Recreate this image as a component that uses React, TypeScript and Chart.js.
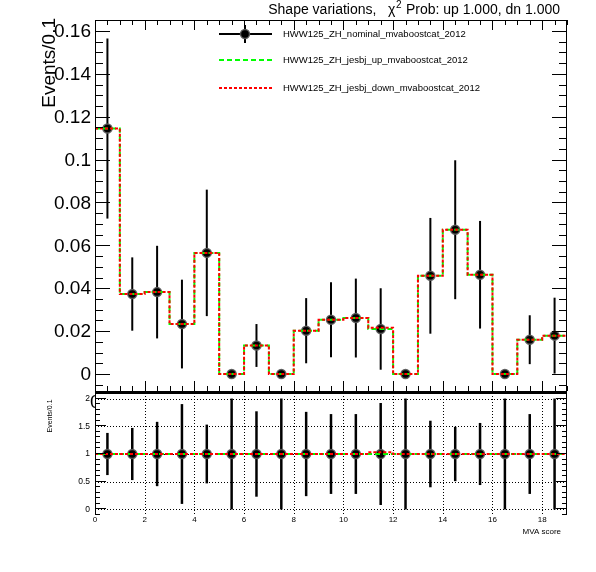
import { useEffect, useRef } from "react";
import { Chart, registerables } from "chart.js";
Chart.register(...registerables);

const W = 596;
const H = 572;
const FONT = '"Liberation Sans", Arial, Helvetica, sans-serif';

// ---------- data ----------
const binCenters = [0.5, 1.5, 2.5, 3.5, 4.5, 5.5, 6.5, 7.5, 8.5, 9.5, 10.5, 11.5, 12.5, 13.5, 14.5, 15.5, 16.5, 17.5, 18.5];
const nominal = [0.1145, 0.0373, 0.0382, 0.0233, 0.0565, 0, 0.0133, 0, 0.0202, 0.0253, 0.0261, 0.021, 0, 0.0458, 0.0673, 0.0463, 0, 0.016, 0.0179];
const nominalErr = [0.042, 0.0171, 0.0216, 0.0207, 0.0295, 0, 0.01, 0, 0.0152, 0.0175, 0.0184, 0.019, 0, 0.027, 0.0324, 0.0251, 0, 0.0114, 0.0177];
const jesUp = [0.1145, 0.0373, 0.0382, 0.0233, 0.0565, 0, 0.0133, 0, 0.0202, 0.0253, 0.0261, 0.021, 0, 0.0458, 0.0673, 0.0463, 0, 0.016, 0.0179];
const jesDown = [0.1145, 0.0373, 0.0382, 0.0233, 0.0565, 0, 0.0133, 0, 0.0202, 0.0253, 0.0261, 0.0216, 0, 0.0458, 0.0673, 0.0463, 0, 0.016, 0.0179];
const ratioNominal = [1, 1, 1, 1, 1, 1, 1, 1, 1, 1, 1, 1, 1, 1, 1, 1, 1, 1, 1];
const ratioErr = [0.38, 0.47, 0.58, 0.9, 0.53, 1.0, 0.77, 1.0, 0.76, 0.72, 0.72, 0.92, 1.0, 0.6, 0.49, 0.56, 1.0, 0.72, 1.0];
const ratioUp = [1, 1, 1, 1, 1, 1, 1, 1, 1, 1, 1, 1, 1, 1, 1, 1, 1, 1, 1];
const ratioDown = [1, 1, 1, 1, 1, 1, 1, 1, 1, 1, 1, 1.03, 1, 1, 1, 1, 1, 1, 1];

const xTicks = [0, 2, 4, 6, 8, 10, 12, 14, 16, 18];
const xTickLabels = ["0", "2", "4", "6", "8", "10", "12", "14", "16", "18"];
const mainYTicks = [0, 0.02, 0.04, 0.06, 0.08, 0.1, 0.12, 0.14, 0.16];
const mainYTickLabels = ["0", "0.02", "0.04", "0.06", "0.08", "0.1", "0.12", "0.14", "0.16"];
const ratioYTicks = [0, 0.5, 1, 1.5, 2];
const ratioYTickLabels = ["0", "0.5", "1", "1.5", "2"];
const legendLabels = [
  "HWW125_ZH_nominal_mvaboostcat_2012",
  "HWW125_ZH_jesbj_up_mvaboostcat_2012",
  "HWW125_ZH_jesbj_down_mvaboostcat_2012",
];
const titleA = "Shape variations,   \u03c7";
const titleSup = "2";
const titleB = " Prob: up 1.000, dn 1.000";
const yTitle = "Events/0.1";
const xTitle = "MVA score";

const GREEN = "#00ff00";
const RED = "#ff0000";
const GREEN_DASH = [5, 3];
const RED_DASH = [3, 2];

function stepPoints(vals: number[]) {
  const pts = vals.map((v, i) => ({ x: binCenters[i] - 0.5, y: v }));
  const n = vals.length - 1;
  pts.push({ x: binCenters[n] + 0.5, y: vals[n] });
  return pts;
}

function drawErrorBars(chart: any, vals: number[], errs: number[], lw: number) {
  const ctx = chart.ctx;
  const { left, right, top, bottom } = chart.chartArea;
  const xs = chart.scales.x;
  const ys = chart.scales.y;
  ctx.save();
  ctx.beginPath();
  ctx.rect(left, top, right - left, bottom - top);
  ctx.clip();
  ctx.strokeStyle = "#000";
  ctx.lineWidth = lw;
  vals.forEach((v, i) => {
    if (errs[i] <= 0) return;
    const x = xs.getPixelForValue(binCenters[i]);
    ctx.beginPath();
    ctx.moveTo(x, ys.getPixelForValue(v - errs[i]));
    ctx.lineTo(x, ys.getPixelForValue(v + errs[i]));
    ctx.stroke();
  });
  ctx.restore();
}

function hLine(ctx: any, x1: number, x2: number, y: number) {
  ctx.beginPath();
  ctx.moveTo(x1, y);
  ctx.lineTo(x2, y);
  ctx.stroke();
}
function vLine(ctx: any, x: number, y1: number, y2: number) {
  ctx.beginPath();
  ctx.moveTo(x, y1);
  ctx.lineTo(x, y2);
  ctx.stroke();
}

const mainPlugin = {
  id: "mainDecor",
  beforeDatasetsDraw(chart: any) {
    drawErrorBars(chart, nominal, nominalErr, 2);
  },
  afterDraw(chart: any) {
    const ctx = chart.ctx;
    const { left, right, top, bottom } = chart.chartArea;
    const xs = chart.scales.x;
    const ys = chart.scales.y;
    ctx.save();
    ctx.strokeStyle = "#000";
    ctx.lineWidth = 1;
    // frame
    hLine(ctx, left, right, top + 0.5);
    vLine(ctx, left + 0.5, top, bottom);
    vLine(ctx, right - 0.5, top, bottom);
    // x ticks (top & bottom)
    for (let v = 0; v <= 19.001; v += 0.5) {
      const major = Math.abs(v / 2 - Math.round(v / 2)) < 1e-6;
      const len = major ? 10 : 5;
      const px = Math.round(xs.getPixelForValue(v)) + 0.5;
      vLine(ctx, px, bottom, bottom - len);
      vLine(ctx, px, top, top + len);
    }
    // y ticks (left & right)
    const ymin = ys.min, ymax = ys.max;
    for (let k = Math.ceil(ymin / 0.005); k * 0.005 <= ymax; k++) {
      const v = k * 0.005;
      const major = k % 4 === 0;
      const len = major ? 15 : 8;
      const py = Math.round(ys.getPixelForValue(v)) + 0.5;
      hLine(ctx, left, left + len, py);
      hLine(ctx, right, right - len, py);
    }
    // y labels
    ctx.fillStyle = "#000";
    ctx.font = `19px ${FONT}`;
    ctx.textAlign = "right";
    ctx.textBaseline = "middle";
    mainYTicks.forEach((v, i) => {
      ctx.fillText(mainYTickLabels[i], 91, ys.getPixelForValue(v) + 1);
    });
    // y title
    ctx.save();
    ctx.translate(55, 18);
    ctx.rotate(-Math.PI / 2);
    ctx.textAlign = "right";
    ctx.textBaseline = "alphabetic";
    ctx.font = `19px ${FONT}`;
    ctx.fillText(yTitle, 0, 0);
    ctx.restore();
    // title
    ctx.font = `14px ${FONT}`;
    ctx.textBaseline = "alphabetic";
    ctx.textAlign = "left";
    const supFont = `10px ${FONT}`;
    const wA = ctx.measureText(titleA).width;
    const wB = ctx.measureText(titleB).width;
    ctx.font = supFont;
    const wS = ctx.measureText(titleSup).width;
    const xEnd = 559;
    const xStart = xEnd - wA - wS - wB;
    const base = 14;
    ctx.font = `14px ${FONT}`;
    ctx.fillText(titleA, xStart, base);
    ctx.font = supFont;
    ctx.fillText(titleSup, xStart + wA + 0.5, base - 6);
    ctx.font = `14px ${FONT}`;
    ctx.fillText(titleB, xStart + wA + wS + 1, base);
    // legend
    const lx1 = 219, lx2 = 272, lxm = 245, tx = 283;
    const rows = [34, 60, 88];
    ctx.lineWidth = 2;
    ctx.strokeStyle = "#000";
    hLine(ctx, lx1, lx2, rows[0]);
    vLine(ctx, lxm, rows[0] - 9, rows[0] + 9);
    ctx.beginPath();
    ctx.arc(lxm, rows[0], 4.5, 0, Math.PI * 2);
    ctx.fillStyle = "#000";
    ctx.fill();
    ctx.lineWidth = 1.5;
    ctx.strokeStyle = "rgba(90,90,90,0.9)";
    ctx.stroke();
    ctx.lineWidth = 2;
    ctx.setLineDash(GREEN_DASH);
    ctx.strokeStyle = GREEN;
    hLine(ctx, lx1, lx2, rows[1]);
    ctx.setLineDash(RED_DASH);
    ctx.strokeStyle = RED;
    hLine(ctx, lx1, lx2, rows[2]);
    ctx.setLineDash([]);
    ctx.fillStyle = "#000";
    ctx.font = `9.5px ${FONT}`;
    ctx.textAlign = "left";
    ctx.textBaseline = "middle";
    legendLabels.forEach((t, i) => ctx.fillText(t, tx, rows[i]));
    ctx.restore();
  },
};

const ratioPlugin = {
  id: "ratioDecor",
  beforeDatasetsDraw(chart: any) {
    const ctx = chart.ctx;
    const { left, right, top, bottom } = chart.chartArea;
    const xs = chart.scales.x;
    const ys = chart.scales.y;
    ctx.save();
    ctx.strokeStyle = "#000";
    ctx.lineWidth = 1;
    ctx.setLineDash([1, 2]);
    xTicks.forEach((v) => {
      if (v === 0) return;
      const px = Math.round(xs.getPixelForValue(v)) + 0.5;
      vLine(ctx, px, top, bottom);
    });
    ratioYTicks.forEach((v) => {
      const py = Math.round(ys.getPixelForValue(v)) + 0.5;
      hLine(ctx, left, right, py);
    });
    ctx.restore();
    drawErrorBars(chart, ratioNominal, ratioErr, 2.5);
  },
  afterDraw(chart: any) {
    const ctx = chart.ctx;
    const { left, right, top, bottom } = chart.chartArea;
    const xs = chart.scales.x;
    const ys = chart.scales.y;
    ctx.save();
    ctx.strokeStyle = "#000";
    ctx.lineWidth = 3;
    hLine(ctx, left, right, top - 0.5);
    ctx.lineWidth = 1;
    vLine(ctx, left + 0.5, top, bottom);
    vLine(ctx, right - 0.5, top, bottom);
    const ymin = ys.min, ymax = ys.max;
    for (let k = Math.ceil(ymin / 0.1 - 1e-6); k * 0.1 <= ymax + 1e-6; k++) {
      const v = k * 0.1;
      const major = k % 5 === 0;
      const len = major ? 11 : 5;
      const py = Math.round(ys.getPixelForValue(v)) - 0.5;
      hLine(ctx, left, left + len, py);
      hLine(ctx, right, right - len, py);
    }
    ctx.fillStyle = "#000";
    ctx.font = `8.5px ${FONT}`;
    ctx.textAlign = "right";
    ctx.textBaseline = "middle";
    ratioYTicks.forEach((v, i) => {
      ctx.fillText(ratioYTickLabels[i], 90, ys.getPixelForValue(v));
    });
    ctx.textAlign = "center";
    ctx.textBaseline = "top";
    ctx.font = `8px ${FONT}`;
    xTicks.forEach((v, i) => {
      ctx.fillText(xTickLabels[i], xs.getPixelForValue(v), 516);
    });
    ctx.textAlign = "right";
    ctx.textBaseline = "middle";
    ctx.fillText(xTitle, 561, 532);
    // small y title
    ctx.save();
    ctx.translate(52, 416);
    ctx.rotate(-Math.PI / 2);
    ctx.textAlign = "center";
    ctx.textBaseline = "alphabetic";
    ctx.font = `7px ${FONT}`;
    ctx.fillText(yTitle, 0, 0);
    ctx.restore();
    // clipped big "0" artefact
    ctx.save();
    ctx.beginPath();
    ctx.rect(80, top + 1, left - 80, 20);
    ctx.clip();
    ctx.font = `19px ${FONT}`;
    ctx.textAlign = "left";
    ctx.textBaseline = "middle";
    ctx.fillText("0", 90, top + 10);
    ctx.restore();
    ctx.restore();
  },
};

function lineDs(vals: number[], color: string, dash: number[], order: number) {
  return {
    type: "line" as const,
    data: stepPoints(vals),
    stepped: "before" as const,
    borderColor: color,
    borderDash: dash,
    borderWidth: 2,
    pointRadius: 0,
    fill: false,
    order,
  };
}

function pointDs(vals: number[]) {
  return {
    type: "scatter" as const,
    data: vals.map((v, i) => ({ x: binCenters[i], y: v })),
    showLine: false,
    pointRadius: 4.5,
    pointBackgroundColor: "#000",
    pointBorderColor: "rgba(90,90,90,0.9)",
    pointBorderWidth: 1.5,
    order: 3,
  };
}

function baseOptions(padding: any, ymin: number, ymax: number) {
  return {
    responsive: false,
    animation: false as const,
    devicePixelRatio: 1,
    events: [],
    layout: { padding, autoPadding: false },
    scales: {
      x: { type: "linear" as const, min: 0, max: 19, display: false },
      y: { type: "linear" as const, min: ymin, max: ymax, display: false },
    },
    plugins: { legend: { display: false }, tooltip: { enabled: false }, title: { display: false } },
  };
}

export default function App() {
  const mainRef = useRef<HTMLCanvasElement>(null);
  const ratioRef = useRef<HTMLCanvasElement>(null);

  useEffect(() => {
    const main = new Chart(mainRef.current as HTMLCanvasElement, {
      type: "scatter",
      data: {
        datasets: [
          pointDs(nominal),
          lineDs(jesUp, GREEN, GREEN_DASH, 2),
          lineDs(jesDown, RED, RED_DASH, 1),
        ] as any,
      },
      options: baseOptions({ left: 95, top: 20, right: W - 567, bottom: H - 391 }, -0.00793, 0.16513) as any,
      plugins: [mainPlugin],
    });
    const ratio = new Chart(ratioRef.current as HTMLCanvasElement, {
      type: "scatter",
      data: {
        datasets: [
          pointDs(ratioNominal),
          lineDs(ratioUp, GREEN, GREEN_DASH, 2),
          lineDs(ratioDown, RED, RED_DASH, 1),
        ] as any,
      },
      options: baseOptions({ left: 95, top: 393, right: W - 567, bottom: H - 515 }, -0.1, 2.1) as any,
      plugins: [ratioPlugin],
    });
    return () => {
      main.destroy();
      ratio.destroy();
    };
  }, []);

  const cs: any = { position: "absolute", left: 0, top: 0, width: W, height: H };
  return (
    <div style={{ position: "fixed", left: 0, top: 0, width: W, height: H, background: "#fff" }}>
      <canvas ref={mainRef} width={W} height={H} style={cs} />
      <canvas ref={ratioRef} width={W} height={H} style={cs} />
    </div>
  );
}
